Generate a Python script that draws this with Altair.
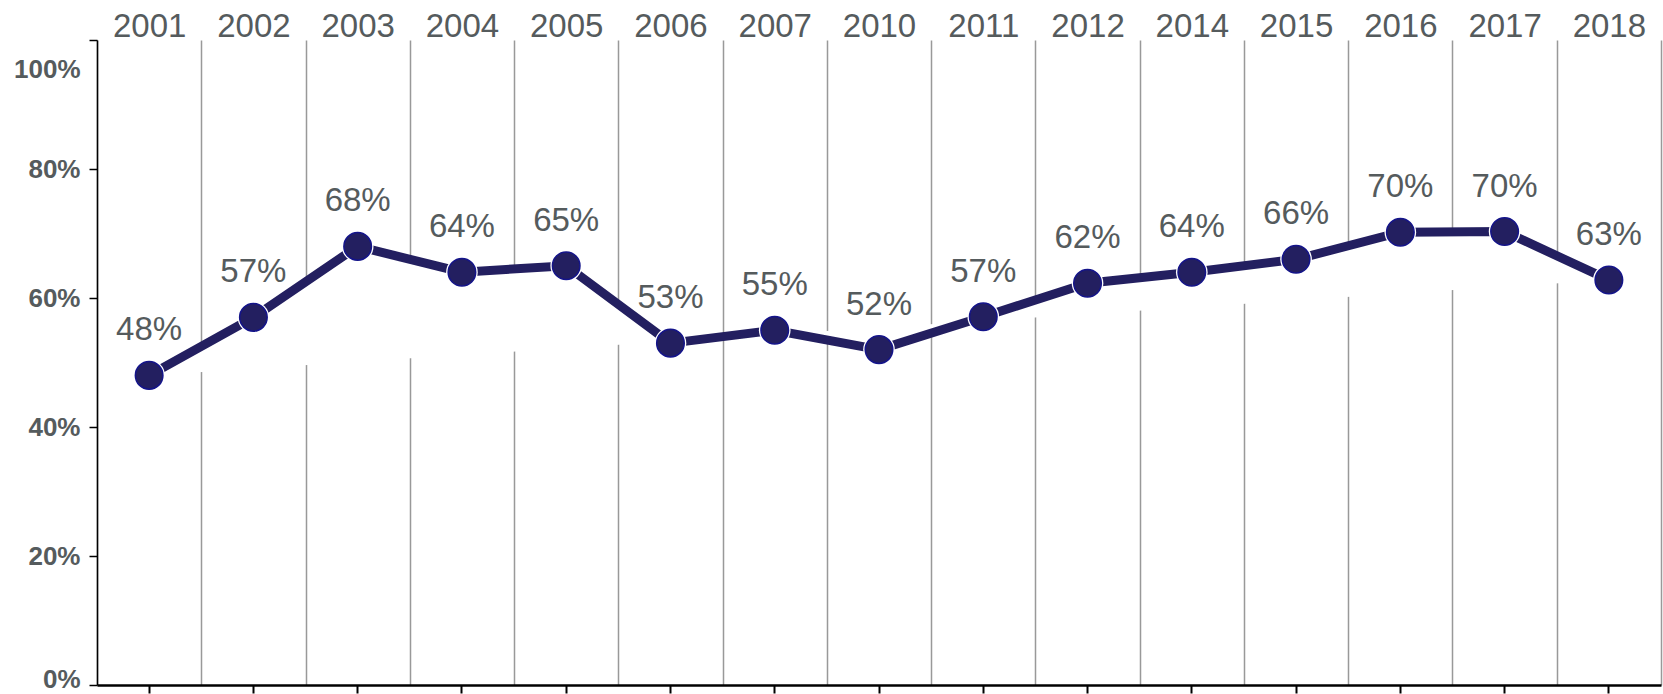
import altair as alt
import pandas as pd

years = ["2001", "2002", "2003", "2004", "2005", "2006", "2007", "2010",
         "2011", "2012", "2014", "2015", "2016", "2017", "2018"]
values = [48, 57, 68, 64, 65, 53, 55, 52, 57.1, 62.3, 64, 66, 70.2, 70.3, 62.8]
labels = ["48%", "57%", "68%", "64%", "65%", "53%", "55%", "52%",
          "57%", "62%", "64%", "66%", "70%", "70%", "63%"]
y_ticks = [0, 20, 40, 60, 80, 100]

df = pd.DataFrame({"year": years, "value": values, "label": labels})

NAVY = "#231f60"
TXT = "#555b5d"
FONT = "Liberation Sans"

xscale = alt.Scale(type="band", paddingInner=0, paddingOuter=0, domain=years)
yscale = alt.Scale(domain=[0, 100], nice=False)

yaxis = alt.Axis(
    values=y_ticks, labelExpr="datum.value + '%'", title=None, grid=False,
    domainColor="black", domainWidth=1.5, tickColor="black", tickWidth=1.5,
    tickSize=8, labelFont=FONT, labelFontSize=26, labelFontWeight="bold",
    labelColor=TXT, labelPadding=9,
    labelOffset={"condition": [{"test": "datum.value == 100", "value": 29},
                               {"test": "datum.value == 0", "value": -6}],
                 "value": 0},
)
y = alt.Y("value:Q", scale=yscale, axis=yaxis)

top_axis = alt.Axis(
    orient="top", domain=False, ticks=False, grid=True, tickBand="extent",
    gridColor="#999999", gridWidth=1.5, labelFont=FONT, labelFontSize=33,
    labelColor=TXT, labelBaseline="alphabetic", labelPadding=4, labelAngle=0,
    title=None,
)
bottom_axis = alt.Axis(
    orient="bottom", labels=False, grid=False, domain=True, domainColor="black",
    domainWidth=2.5, ticks=True, tickColor="black", tickWidth=2, tickSize=8,
    title=None,
)

base = alt.Chart(df)

line = base.mark_line(stroke=NAVY, strokeWidth=9, fill="white").encode(
    x=alt.X("year:N", scale=xscale, sort=years, axis=top_axis), y=y
)
halo = base.mark_point(filled=True, shape="circle", size=1000, color="white", opacity=1).encode(
    x=alt.X("year:N", scale=xscale, sort=years, axis=bottom_axis), y=y
)
pts = base.mark_point(filled=True, shape="circle", size=760, fill=NAVY, stroke="#14148a",
                      strokeWidth=1.5, opacity=1).encode(
    x=alt.X("year:N", scale=xscale, sort=years, axis=None), y=y
)
txt = base.mark_text(font=FONT, fontSize=33, color=TXT, baseline="alphabetic", dy=-35).encode(
    x=alt.X("year:N", scale=xscale, sort=years, axis=None), y=y, text="label:N"
)

chart = alt.layer(line, halo, pts, txt).resolve_axis(x="independent").properties(
    width=1564, height=645,
    autosize=alt.AutoSizeParams(type="none"),
    padding={"left": 97, "top": 40, "right": 2, "bottom": 9},
    background="white",
).configure_view(stroke=None)

chart.save("out.html", embed_options={"renderer": "svg", "actions": False})
